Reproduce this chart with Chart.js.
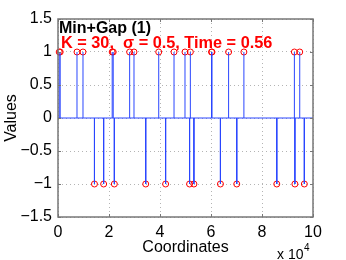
<!DOCTYPE html>
<html>
<head>
<meta charset="utf-8">
<script src="https://cdn.jsdelivr.net/npm/chart.js@4"></script>
<style>
  html, body { margin: 0; padding: 0; background: #fff; }
  canvas { display: block; }
</style>
</head>
<body>
<canvas id="grafico" width="346" height="260"></canvas>
<script>
// ── Dados ──
const coords = [470, 860, 7450, 9800, 14300, 17900, 21250, 21650, 22100, 28100,
                29800, 34400, 39500, 42200, 45500, 49800, 51600, 51900, 53300, 60200,
                60400, 63700, 66900, 70100, 72900, 85800, 92700, 92900, 94800, 96600];
const valores = [1, 1, 1, 1, -1, -1, 1, 1, -1, 1,
                 1, -1, 1, -1, 1, 1, -1, 1, -1, 1,
                 1, -1, 1, -1, 1, -1, 1, -1, 1, -1];
const yTicks = [-1.5, -1, -0.5, 0, 0.5, 1, 1.5];
const xTicks = [0, 2, 4, 6, 8, 10];
const titulo1 = "Min+Gap (1)";
const titulo2 = "K = 30,  σ = 0.5, Time = 0.56";

const AZUL = "#2a46ff";
const VERMELHO = "#ff0000";
const FONTE = "'Liberation Sans', Arial, Helvetica, sans-serif";

// hastes: (x,0) -> (x,v) -> gap
const hastes = [];
coords.forEach((c, i) => {
    hastes.push({ x: c, y: 0 });
    hastes.push({ x: c, y: valores[i] });
    hastes.push({ x: c, y: null });
});
const pontos = coords.map((c, i) => ({ x: c, y: valores[i] }));

// ── Moldura, ticks internos e textos ──
const moldura = {
    id: "moldura",
    afterDraw(chart) {
        const { ctx, chartArea: a, scales } = chart;
        ctx.save();
        ctx.strokeStyle = "#777";
        ctx.lineWidth = 1;
        ctx.beginPath();
        xTicks.forEach(t => {
            const px = Math.round(scales.x.getPixelForValue(t * 10000)) + 0.5;
            ctx.moveTo(px, a.bottom); ctx.lineTo(px, a.bottom - 3);
            ctx.moveTo(px, a.top);    ctx.lineTo(px, a.top + 3);
        });
        yTicks.forEach(t => {
            const py = Math.round(scales.y.getPixelForValue(t)) + 0.5;
            ctx.moveTo(a.left, py);  ctx.lineTo(a.left + 3, py);
            ctx.moveTo(a.right, py); ctx.lineTo(a.right - 3, py);
        });
        ctx.stroke();
        ctx.lineWidth = 1.5;
        ctx.strokeRect(a.left, a.top, a.right - a.left, a.bottom - a.top);

        ctx.textAlign = "left";
        ctx.textBaseline = "alphabetic";
        ctx.font = "bold 16px " + FONTE;
        ctx.fillStyle = "#000";
        ctx.fillText(titulo1, a.left + 1, 33);
        ctx.fillStyle = VERMELHO;
        ctx.font = "bold 16.3px " + FONTE;
        ctx.fillText(titulo2, a.left + 3, 47.5);

        ctx.fillStyle = "#000";
        ctx.font = "14px " + FONTE;
        ctx.fillText("x 10", 277, 259);
        ctx.font = "10px " + FONTE;
        ctx.fillText("4", 304, 251);
        ctx.restore();
    }
};

new Chart(document.getElementById("grafico"), {
    type: "line",
    data: {
        datasets: [
            {
                data: [{ x: 0, y: 0 }, { x: 100000, y: 0 }],
                borderColor: AZUL, borderWidth: 1, pointRadius: 0
            },
            {
                data: hastes,
                borderColor: AZUL, borderWidth: 1, pointRadius: 0, spanGaps: false
            },
            {
                data: pontos,
                showLine: false,
                pointRadius: 3,
                pointBorderWidth: 1,
                pointBorderColor: VERMELHO,
                pointBackgroundColor: "rgba(0,0,0,0)",
                clip: 5
            }
        ]
    },
    options: {
        responsive: false,
        devicePixelRatio: 1,
        animation: false,
        layout: { padding: { top: 19, right: 33, left: 0, bottom: 0 } },
        plugins: { legend: { display: false }, tooltip: { enabled: false } },
        scales: {
            x: {
                type: "linear",
                min: 0, max: 100000,
                afterFit: s => { s.height = 43; },
                afterBuildTicks: s => { s.ticks = xTicks.map(v => ({ value: v * 10000 })); },
                ticks: {
                    callback: v => String(v / 10000),
                    font: { family: FONTE, size: 16 },
                    color: "#000",
                    padding: 6,
                    maxRotation: 0
                },
                grid: { color: "#b4b4b4", drawTicks: false, lineWidth: 1 },
                border: { display: false, dash: [1, 3] },
                title: {
                    display: true, text: "Coordinates", color: "#000",
                    font: { family: FONTE, size: 16 },
                    padding: { top: 0, bottom: 3 }
                }
            },
            y: {
                min: -1.5, max: 1.5,
                afterFit: s => { s.width = 58; },
                afterBuildTicks: s => { s.ticks = yTicks.map(v => ({ value: v })); },
                ticks: {
                    callback: v => (v < 0 ? "\u2212" : "") + Math.abs(v),
                    font: { family: FONTE, size: 16 },
                    color: "#000",
                    padding: 6
                },
                grid: { color: "#b4b4b4", drawTicks: false, lineWidth: 1 },
                border: { display: false, dash: [1, 3] },
                title: {
                    display: true, text: "Values", color: "#000",
                    font: { family: FONTE, size: 16 },
                    padding: { top: 2, bottom: 0 }
                }
            }
        }
    },
    plugins: [moldura]
});
</script>
</body>
</html>
